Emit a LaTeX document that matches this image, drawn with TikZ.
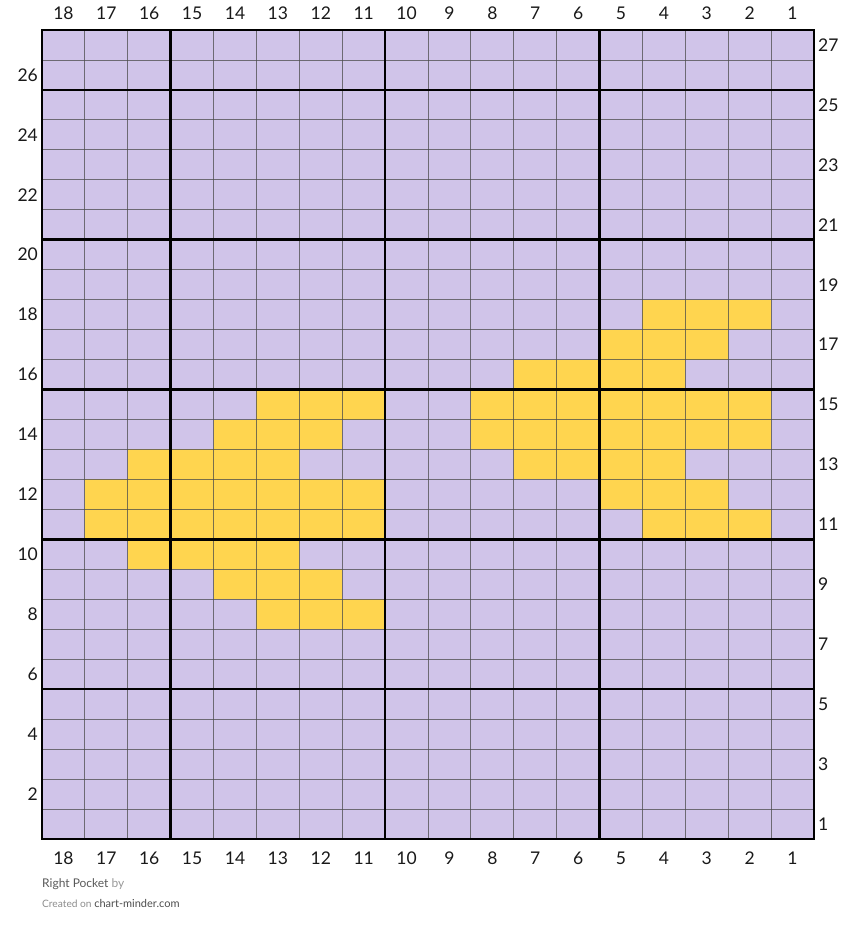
\documentclass[tikz,border=0pt]{standalone}
\usepackage{fontspec}
\setmainfont{Lato}
\definecolor{lav}{RGB}{208,196,233}
\definecolor{yel}{RGB}{255,213,79}
\begin{document}
\begin{tikzpicture}[x=1pt,y=-1pt,
  lab/.style={font=\fontsize{17.5}{20}\selectfont, text=black!90, inner sep=0pt},
  thinline/.style={draw=black!70, line width=0.9pt, opacity=0.75},
  thickline/.style={draw=black, line width=2.6pt, line cap=rect}]
\useasboundingbox (0,0) rectangle (857,933);
\def\cw{42.8889}\def\rh{29.963}
\fill[lav] (42,30) rectangle (814,839);
\foreach \r/\cl in {18/{2,3,4},17/{3,4,5},16/{4,5,6,7},15/{2,3,4,5,6,7,8,11,12,13},14/{2,3,4,5,6,7,8,12,13,14},13/{4,5,6,7,13,14,15,16},12/{3,4,5,11,12,13,14,15,16,17},11/{2,3,4,11,12,13,14,15,16,17},10/{13,14,15,16},9/{12,13,14},8/{11,12,13}}{
  \foreach \c in \cl {
    \fill[yel] ({814-\cw*\c},{839-\rh*\r}) rectangle ({814-\cw*(\c-1)},{839-\rh*(\r-1)});
  }
}
\foreach \i in {1,...,17} \draw[thinline] ({42+\cw*\i},30) -- ({42+\cw*\i},839);
\foreach \j in {1,...,26} \draw[thinline] (42,{30+\rh*\j}) -- (814,{30+\rh*\j});
\foreach \i in {0,3,8,13,18} \draw[thickline] ({42+\cw*\i},30) -- ({42+\cw*\i},839);
\foreach \k in {0,5,10,15,20,25,27} \draw[thickline] (42,{839-\rh*\k}) -- (814,{839-\rh*\k});
\foreach \c in {1,...,18} {
  \node[lab] (ct\c) at ({814-\cw*(\c-0.5)},13) {\c};
  \node[lab] (cb\c) at ({814-\cw*(\c-0.5)},858) {\c};
}
\foreach \r in {2,4,...,26} \node[lab, anchor=east] (rl\r) at (38,{839-\rh*(\r-0.5)}) {\r};
\foreach \r in {1,3,...,27} \node[lab, anchor=west] (rr\r) at (818,{839-\rh*(\r-0.5)}) {\r};
\node[anchor=west, inner sep=0pt, font=\fontsize{12}{14}\selectfont] (title) at (42,884)
  {\textcolor{black!65}{Right Pocket} \textcolor{black!40}{by}};
\node[anchor=west, inner sep=0pt] (credit) at (42,903)
  {\textcolor{black!45}{\fontsize{10.2}{12}\selectfont Created on} \textcolor{black!70}{\fontsize{11}{13}\selectfont chart-minder.com}};
\end{tikzpicture}
\end{document}
